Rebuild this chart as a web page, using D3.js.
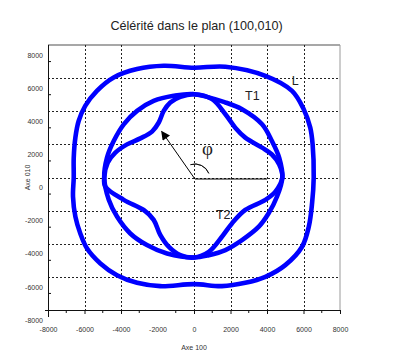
<!DOCTYPE html>
<html>
<head>
<meta charset="utf-8">
<script src="https://cdn.jsdelivr.net/npm/d3@7"></script>
<style>
  body { margin: 0; background: #fff; }
  svg { display: block; font-family: "Liberation Sans", Arial, sans-serif; }
</style>
</head>
<body>
<div id="chart"></div>
<script>
// axis ticks (m/s)
const xTicks = [-8000, -6000, -4000, -2000, 0, 2000, 4000, 6000, 8000];
const yTicks = [-8000, -6000, -4000, -2000, 0, 2000, 4000, 6000, 8000];
const xGrid = [-6000, -4000, 0, 2000, 4000, 6000];
const yGrid = [-6000, -4000, -2000, 0, 2000, 4000, 6000];
const xMinor = [-7000, -5000, -3000, -1000, 1000, 3000, 7000];
const yMinor = [-7000, -5000, -3000, -1000, 1000, 3000, 5000, 7000];

// celerity curves, [V100, V010]
const curveL = [
    [6560, 0], [6500, 2000], [6370, 3010], [6010, 4120], [5370, 5230], [3910, 6140], [1720, 6690],
    [0, 6630], [-1660, 6745], [-3120, 6545], [-4400, 6040], [-5320, 5230], [-5960, 4320],
    [-6320, 3410], [-6500, 2410], [-6590, 1190], [-6590, 0],
    [-6630, -1150], [-6500, -2360], [-6230, -3380], [-5860, -4290], [-5130, -5190],
    [-4220, -5900], [-3120, -6360], [-1850, -6560], [0, -6440],
    [1530, -6560], [2810, -6360], [3910, -6000], [5000, -5290], [5920, -4180], [6290, -2970], [6470, -1560]
];
const curveT1 = [
    [4840, 0], [4670, 1190], [4270, 2200], [3730, 3210], [2630, 4120], [1720, 4530],
    [0, 5030], [-1110, 4930], [-2210, 4620], [-3120, 4020], [-3850, 3210], [-4400, 2200], [-4770, 1190],
    [-4920, 0], [-4670, -1350], [-4220, -2360], [-3490, -3380], [-2580, -4080], [-1480, -4590],
    [0, -4830], [810, -4690], [1720, -4380], [2630, -3780], [3550, -2970], [4090, -2160], [4550, -1150]
];
const curveT2 = [
    [4840, 0], [4670, 790], [4270, 1390], [3730, 1800], [2810, 2410], [2260, 3010], [1720, 3820], [990, 4730],
    [0, 5030], [-750, 4870], [-1300, 4530], [-1660, 4020], [-1930, 3320], [-2300, 2770], [-2940, 2360],
    [-3670, 2000], [-4310, 1500], [-4730, 890],
    [-4920, 0], [-4860, -550], [-3850, -1350], [-2760, -1960], [-2210, -2560], [-1850, -3470],
    [-1390, -4180], [-750, -4690],
    [0, -4830], [810, -4490], [1530, -3580], [2080, -2770], [2810, -1960], [3910, -1350], [4460, -850]
];
const curveNames = ["L", "T1", "T2"];
const curveLabels = [[5350, 5600], [2800, 4700], [1200, -2480]];

// angle annotation
const phiOrigin = [50, -90];
const phiArrow = [-1770, 2780];
const phiRef = [4000, -90];

const width = 395, height = 360;
const plot = { left: 48, right: 340, top: 45, bottom: 310 };

const svg = d3.select("#chart")
    .append("svg")
    .attr("width", width)
    .attr("height", height);

const xScale = d3.scaleLinear().domain([-8000, 8000]).range([plot.left, plot.right]);
const yScale = d3.scaleLinear().domain([-8000, 8000]).range([plot.bottom, plot.top]);

// title
svg.append("text")
    .attr("x", 196.5)
    .attr("y", 30)
    .attr("text-anchor", "middle")
    .attr("font-size", 12.6)
    .attr("fill", "#222")
    .text("Célérité dans le plan (100,010)");

// frame (top/right)
svg.append("line")
    .attr("x1", plot.left).attr("x2", plot.right)
    .attr("y1", plot.top).attr("y2", plot.top)
    .attr("stroke", "#8a8a8a").attr("stroke-width", 1.5);
svg.append("line")
    .attr("x1", plot.right).attr("x2", plot.right)
    .attr("y1", plot.top).attr("y2", plot.bottom)
    .attr("stroke", "#9a9a9a").attr("stroke-width", 1);

// dotted grid
const grid = svg.append("g")
    .attr("stroke", "#222")
    .attr("stroke-width", 1)
    .attr("stroke-dasharray", "2,2")
    .attr("shape-rendering", "crispEdges");
grid.selectAll(".gx")
    .data(xGrid)
    .enter()
    .append("line")
    .attr("x1", d => Math.round(xScale(d)) + 0.5)
    .attr("x2", d => Math.round(xScale(d)) + 0.5)
    .attr("y1", plot.top)
    .attr("y2", plot.bottom);
grid.selectAll(".gy")
    .data(yGrid)
    .enter()
    .append("line")
    .attr("x1", plot.left)
    .attr("x2", plot.right)
    .attr("y1", d => Math.round(yScale(d)) + 0.5)
    .attr("y2", d => Math.round(yScale(d)) + 0.5);

const tickFmt = d => String(d);

// x axis
const xAxis = d3.axisBottom(xScale).tickValues(xTicks).tickFormat(tickFmt)
    .tickSizeInner(4).tickSizeOuter(0).tickPadding(13);
const gx = svg.append("g")
    .attr("transform", `translate(0,${plot.bottom})`)
    .call(xAxis);
gx.select(".domain").remove();
gx.selectAll(".tick line").filter(d => d === -2000).remove();
gx.selectAll("line").attr("stroke", "#111");
gx.selectAll("text").attr("font-size", 7).attr("fill", "#333").attr("font-family", "Liberation Sans, Arial, sans-serif");
gx.append("line")
    .attr("x1", plot.left - 3).attr("x2", plot.right)
    .attr("y1", 0.5).attr("y2", 0.5)
    .attr("stroke", "#111");
gx.selectAll(".minor")
    .data(xMinor)
    .enter()
    .append("line")
    .attr("x1", d => xScale(d)).attr("x2", d => xScale(d))
    .attr("y1", 0).attr("y2", 3)
    .attr("stroke", "#111");

// y axis
const yAxis = d3.axisLeft(yScale).tickValues(yTicks).tickFormat(tickFmt).tickSize(0).tickPadding(5);
const gy = svg.append("g")
    .attr("transform", `translate(${plot.left},0)`)
    .call(yAxis);
gy.select(".domain").remove();
gy.selectAll("text").attr("y", 10).attr("font-size", 7).attr("fill", "#333").attr("font-family", "Liberation Sans, Arial, sans-serif");
gy.append("line")
    .attr("x1", 0.5).attr("x2", 0.5)
    .attr("y1", plot.top).attr("y2", plot.bottom + 7)
    .attr("stroke", "#111");
gy.selectAll(".minor")
    .data(yMinor)
    .enter()
    .append("line")
    .attr("x1", 0).attr("x2", 3)
    .attr("y1", d => yScale(d)).attr("y2", d => yScale(d))
    .attr("stroke", "#111");

// axis titles
svg.append("text")
    .attr("x", 194)
    .attr("y", 349.5)
    .attr("text-anchor", "middle")
    .attr("font-size", 7)
    .attr("fill", "#333")
    .text("Axe 100");
svg.append("text")
    .attr("transform", "translate(30,177.5) rotate(-90)")
    .attr("text-anchor", "middle")
    .attr("font-size", 7)
    .attr("fill", "#333")
    .text("Axe 010");

// curves
const line = d3.line()
    .x(d => xScale(d[0]))
    .y(d => yScale(d[1]))
    .curve(d3.curveCatmullRomClosed.alpha(0.5));

svg.append("g")
    .selectAll("path")
    .data([curveL, curveT1, curveT2])
    .enter()
    .append("path")
    .attr("d", line)
    .attr("fill", "none")
    .attr("stroke", "#0000ff")
    .attr("stroke-width", 4.6)
    .attr("stroke-linejoin", "round");

svg.append("g")
    .selectAll("text")
    .data(curveNames)
    .enter()
    .append("text")
    .attr("x", (d, i) => xScale(curveLabels[i][0]))
    .attr("y", (d, i) => yScale(curveLabels[i][1]))
    .attr("font-size", 12.5)
    .attr("fill", "#222")
    .text(d => d);

// phi annotation
svg.append("defs")
    .append("marker")
    .attr("id", "head")
    .attr("viewBox", "0 0 10 10")
    .attr("refX", 9).attr("refY", 5)
    .attr("markerWidth", 10).attr("markerHeight", 9)
    .attr("markerUnits", "userSpaceOnUse")
    .attr("orient", "auto")
    .append("path")
    .attr("d", "M0,0L10,5L0,10z")
    .attr("fill", "#000");

svg.append("line")
    .attr("x1", xScale(phiOrigin[0])).attr("y1", yScale(phiOrigin[1]))
    .attr("x2", xScale(phiArrow[0])).attr("y2", yScale(phiArrow[1]))
    .attr("stroke", "#000").attr("stroke-width", 1)
    .attr("marker-end", "url(#head)");
svg.append("line")
    .attr("x1", xScale(phiOrigin[0])).attr("y1", yScale(phiOrigin[1]))
    .attr("x2", xScale(phiRef[0])).attr("y2", yScale(phiRef[1]))
    .attr("stroke", "#000").attr("stroke-width", 1.2);

const arc = d3.arc()
    .innerRadius(15).outerRadius(15)
    .startAngle(-17 * Math.PI / 180)
    .endAngle(68 * Math.PI / 180);
svg.append("path")
    .attr("transform", `translate(${xScale(phiOrigin[0])},${yScale(phiOrigin[1])})`)
    .attr("d", arc())
    .attr("fill", "none")
    .attr("stroke", "#000")
    .attr("stroke-width", 0.8);

svg.append("text")
    .attr("x", 207.5)
    .attr("y", 155)
    .attr("text-anchor", "middle")
    .attr("font-size", 19)
    .attr("font-family", "Liberation Serif, serif")
    .attr("fill", "#222")
    .text("φ");
</script>
</body>
</html>
